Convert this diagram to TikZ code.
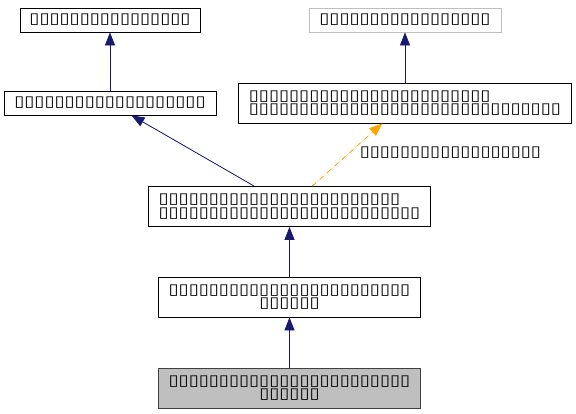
\documentclass[tikz,border=0pt]{standalone}
\usepackage{fontspec}
\setmainfont{DejaVu Sans}
\newfontfamily\tofu[FakeStretch=1.22]{DejaVu Sans}
\usetikzlibrary{arrows.meta}
\definecolor{edgeblue}{HTML}{191970}
\definecolor{edgeorange}{HTML}{FFA500}
\definecolor{boxgray}{HTML}{BFBFBF}

\begin{document}
\begin{tikzpicture}[x=1pt, y=1pt, node distance=83pt,
  cls/.style={draw, line width=0.8pt, inner xsep=0pt, inner ysep=0pt, minimum height=24pt, font=\tofu\fontsize{15}{13.5}\selectfont},
  cls2/.style={cls, minimum height=40pt},
  ext/.style={cls, draw=boxgray},
  cur/.style={cls2, fill=boxgray, draw=black!75},
  inh/.style={-{Triangle[length=13pt, width=10pt]}, line width=0.8pt, draw=edgeblue, fill=edgeblue},
  usg/.style={-{Triangle[length=13pt, width=10pt]}, line width=0.8pt, dash pattern=on 5pt off 5pt, draw=edgeorange, fill=edgeorange}]

  \useasboundingbox (0,0) rectangle (576,-413);

  % Top row
  \node[cls, minimum width=180pt] (A) at (110,-20) {▯▯▯▯▯▯▯▯▯▯▯▯▯▯▯▯};
  \node[ext, right of=A, node distance=295pt, minimum width=192pt] (C) {▯▯▯▯▯▯▯▯▯▯▯▯▯▯▯▯▯};

  % Second row
  \node[cls, below of=A, minimum width=212pt] (B) {▯▯▯▯▯▯▯▯▯▯▯▯▯▯▯▯▯▯▯};
  \node[cls2, below of=C, minimum width=333pt, align=left] (D) {▯▯▯▯▯▯▯▯▯▯▯▯▯▯▯▯▯▯▯▯▯▯▯▯\\▯▯▯▯▯▯▯▯▯▯▯▯▯▯▯▯▯▯▯▯▯▯▯▯▯▯▯▯▯▯▯};

  % Lower chain
  \node[cls2, below of=B, node distance=103.5pt, xshift=179.5pt, minimum width=282pt, align=left] (E) {▯▯▯▯▯▯▯▯▯▯▯▯▯▯▯▯▯▯▯▯▯▯▯▯\\▯▯▯▯▯▯▯▯▯▯▯▯▯▯▯▯▯▯▯▯▯▯▯▯▯▯};
  \node[cls2, below of=E, node distance=90.5pt, minimum width=262pt, align=center] (F) {▯▯▯▯▯▯▯▯▯▯▯▯▯▯▯▯▯▯▯▯▯▯▯▯\\▯▯▯▯▯▯};
  \node[cur, below of=F, node distance=91pt, minimum width=262pt, align=center] (G) {▯▯▯▯▯▯▯▯▯▯▯▯▯▯▯▯▯▯▯▯▯▯▯▯\\▯▯▯▯▯▯};

  \draw[inh] (B) -- (A);
  \draw[inh] (D) -- (C);
  \draw[inh] (E) -- (B);
  \draw[usg] (E) -- node[pos=0.54, anchor=west, xshift=6pt, font=\tofu\fontsize{15}{13.5}\selectfont] {▯▯▯▯▯▯▯▯▯▯▯▯▯▯▯▯▯▯} (D);
  \draw[inh] (F) -- (E);
  \draw[inh] (G) -- (F);

\end{tikzpicture}
\end{document}
